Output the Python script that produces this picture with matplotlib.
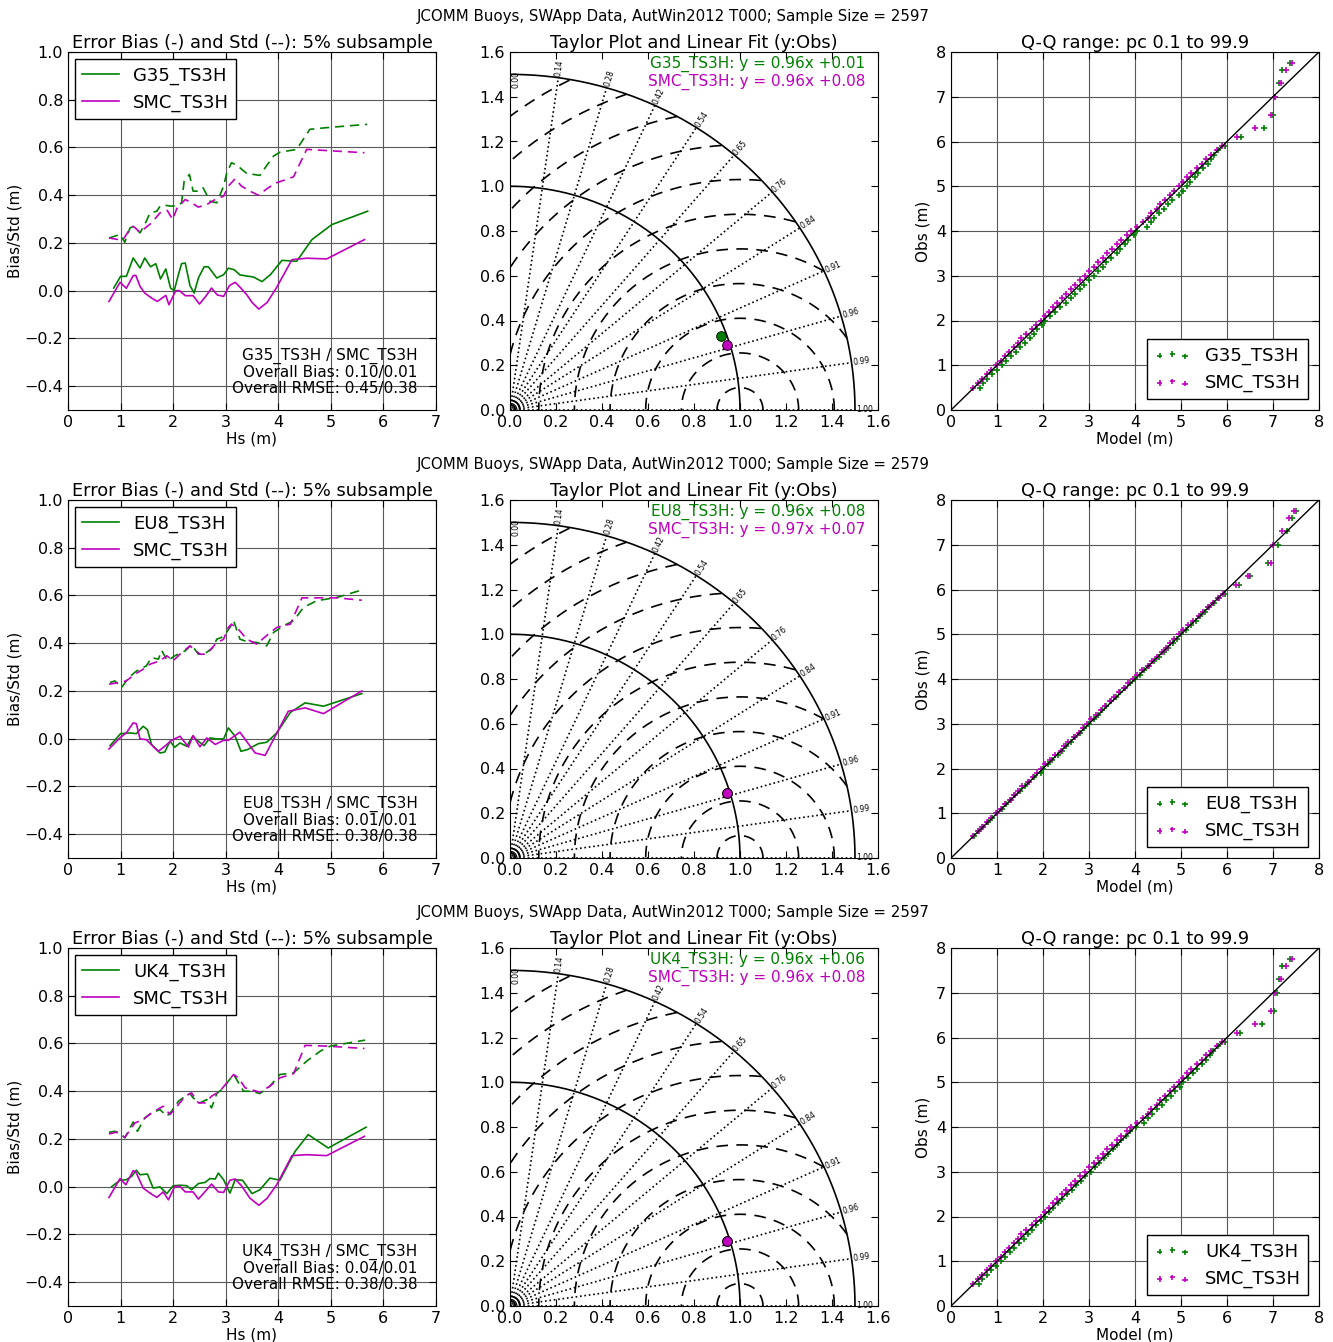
import numpy as np
import matplotlib
matplotlib.use('Agg')
import matplotlib.pyplot as plt

""" Bias/Std, Taylor and Q-Q panels for three model pairs """

plt.rcParams['font.family'] = ['DejaVu Sans']
plt.rcParams['xtick.direction'] = 'in'
plt.rcParams['ytick.direction'] = 'in'
plt.rcParams['xtick.top'] = True
plt.rcParams['ytick.right'] = True
plt.rcParams['xtick.labelsize'] = 11.5
plt.rcParams['ytick.labelsize'] = 11.5
plt.rcParams['xtick.major.size'] = 5
plt.rcParams['ytick.major.size'] = 5

# ---- row headers / model names
models = ['G35_TS3H', 'EU8_TS3H', 'UK4_TS3H']
ref_model = 'SMC_TS3H'
sample_sizes = [2597, 2579, 2597]
overall_bias = [('0.10', '0.01'), ('0.01', '0.01'), ('0.04', '0.01')]
overall_rmse = [('0.45', '0.38'), ('0.38', '0.38'), ('0.38', '0.38')]
fit_model = [('0.96', '+0.01'), ('0.96', '+0.08'), ('0.96', '+0.06')]
fit_smc = [('0.96', '+0.08'), ('0.97', '+0.07'), ('0.96', '+0.08')]

# ---- bias (solid) and std (dashed) vs Hs
g35_bias_x = [0.87, 1.0, 1.11, 1.24, 1.37, 1.46, 1.57, 1.67, 1.76, 1.86, 1.95, 2.02, 2.1, 2.16, 2.23, 2.32, 2.4, 2.48, 2.59, 2.67, 2.83, 2.96, 3.05, 3.16, 3.27, 3.53, 3.69, 3.85, 4.07, 4.35, 4.64, 5.02, 5.7]
g35_bias_y = [0.011, 0.06, 0.06, 0.137, 0.095, 0.137, 0.1, 0.113, 0.049, 0.091, 0.011, 0.0, 0.067, 0.113, 0.116, 0.021, -0.01, 0.053, 0.1, 0.1, 0.053, 0.067, 0.094, 0.088, 0.066, 0.057, 0.038, 0.067, 0.127, 0.123, 0.214, 0.277, 0.333]
smc1_bias_x = [0.78, 0.99, 1.11, 1.24, 1.29, 1.37, 1.46, 1.59, 1.7, 1.86, 1.92, 2.05, 2.12, 2.23, 2.38, 2.5, 2.62, 2.73, 2.84, 2.96, 3.07, 3.18, 3.27, 3.4, 3.5, 3.63, 3.79, 3.97, 4.26, 4.54, 4.92, 5.64]
smc1_bias_y = [-0.045, 0.035, 0.01, 0.063, 0.064, 0.018, -0.01, -0.031, -0.045, -0.02, -0.059, 0.0, 0.0, -0.021, -0.021, -0.056, -0.024, 0.011, -0.018, -0.024, 0.021, 0.035, 0.015, -0.017, -0.049, -0.077, -0.049, 0.014, 0.13, 0.136, 0.133, 0.214]
g35_std_x = [0.78, 0.99, 1.08, 1.18, 1.25, 1.37, 1.49, 1.56, 1.69, 1.75, 1.84, 1.97, 2.1, 2.16, 2.21, 2.31, 2.38, 2.48, 2.57, 2.7, 2.83, 2.96, 3.02, 3.11, 3.18, 3.27, 3.4, 3.53, 3.65, 3.75, 3.91, 4.03, 4.35, 4.6, 4.92, 5.69]
g35_std_y = [0.221, 0.235, 0.203, 0.263, 0.27, 0.242, 0.291, 0.326, 0.333, 0.354, 0.358, 0.354, 0.357, 0.368, 0.459, 0.487, 0.417, 0.417, 0.431, 0.375, 0.368, 0.438, 0.494, 0.536, 0.529, 0.515, 0.491, 0.487, 0.483, 0.515, 0.564, 0.58, 0.592, 0.676, 0.683, 0.697]
smc1_std_x = [0.78, 0.96, 1.05, 1.15, 1.24, 1.37, 1.59, 1.75, 1.89, 1.99, 2.07, 2.23, 2.35, 2.48, 2.64, 2.8, 2.96, 3.05, 3.18, 3.3, 3.46, 3.62, 3.81, 3.97, 4.29, 4.54, 4.92, 5.64]
smc1_std_y = [0.221, 0.214, 0.214, 0.249, 0.27, 0.245, 0.284, 0.326, 0.336, 0.298, 0.344, 0.382, 0.368, 0.35, 0.361, 0.382, 0.396, 0.438, 0.469, 0.438, 0.417, 0.4, 0.431, 0.452, 0.477, 0.592, 0.587, 0.578]

eu8_bias_x = [0.8, 1.0, 1.18, 1.3, 1.43, 1.51, 1.59, 1.75, 1.84, 1.94, 2.03, 2.13, 2.26, 2.37, 2.48, 2.59, 2.7, 2.83, 2.96, 3.05, 3.18, 3.29, 3.41, 3.62, 3.78, 3.97, 4.23, 4.51, 4.86, 5.59]
eu8_bias_y = [-0.029, 0.021, 0.024, 0.021, 0.052, 0.038, -0.025, -0.06, -0.056, -0.011, -0.036, -0.018, -0.032, 0.01, -0.011, -0.029, 0.003, -0.001, -0.001, 0.045, 0.01, -0.053, -0.046, -0.021, -0.015, 0.024, 0.11, 0.15, 0.136, 0.189]
smc2_bias_x = [0.78, 1.0, 1.11, 1.24, 1.3, 1.37, 1.49, 1.65, 1.72, 1.84, 1.97, 2.13, 2.29, 2.38, 2.51, 2.64, 2.8, 2.96, 3.05, 3.27, 3.56, 3.75, 3.94, 4.19, 4.51, 4.86, 5.59]
smc2_bias_y = [-0.043, 0.006, 0.024, 0.066, 0.063, -0.001, -0.004, -0.039, -0.053, -0.032, -0.007, 0.01, -0.035, 0.013, -0.034, 0.003, -0.024, -0.007, -0.007, 0.027, -0.06, -0.07, 0.01, 0.115, 0.129, 0.105, 0.2]
eu8_std_x = [0.8, 0.89, 1.02, 1.15, 1.3, 1.49, 1.59, 1.72, 1.78, 1.89, 2.03, 2.23, 2.35, 2.48, 2.61, 2.76, 2.83, 2.92, 2.99, 3.08, 3.15, 3.27, 3.4, 3.59, 3.78, 3.91, 4.1, 4.29, 4.48, 4.73, 5.12, 5.59]
eu8_std_y = [0.235, 0.242, 0.214, 0.255, 0.283, 0.305, 0.34, 0.333, 0.37, 0.326, 0.347, 0.368, 0.393, 0.354, 0.357, 0.382, 0.417, 0.424, 0.438, 0.466, 0.494, 0.417, 0.407, 0.403, 0.389, 0.445, 0.473, 0.494, 0.55, 0.578, 0.592, 0.623]
smc2_std_x = [0.78, 0.96, 1.11, 1.27, 1.43, 1.56, 1.75, 1.88, 2.0, 2.13, 2.32, 2.51, 2.64, 2.8, 2.96, 3.05, 3.11, 3.24, 3.4, 3.59, 3.81, 3.97, 4.23, 4.45, 4.86, 5.12, 5.59]
smc2_std_y = [0.228, 0.235, 0.242, 0.27, 0.291, 0.312, 0.326, 0.347, 0.326, 0.354, 0.389, 0.354, 0.354, 0.396, 0.417, 0.466, 0.48, 0.459, 0.417, 0.396, 0.438, 0.466, 0.48, 0.59, 0.59, 0.59, 0.58]

uk4_bias_x = [0.83, 0.99, 1.11, 1.21, 1.3, 1.37, 1.51, 1.62, 1.75, 1.88, 2.0, 2.14, 2.26, 2.35, 2.48, 2.61, 2.7, 2.8, 2.86, 2.96, 3.08, 3.18, 3.32, 3.5, 3.65, 3.84, 4.03, 4.32, 4.57, 4.95, 5.67]
uk4_bias_y = [0.0, 0.027, 0.029, 0.043, 0.069, 0.05, 0.053, -0.006, -0.001, -0.029, 0.004, 0.006, 0.004, -0.013, 0.013, 0.018, 0.034, 0.032, 0.057, 0.029, -0.027, 0.029, 0.027, -0.029, -0.013, 0.036, 0.027, 0.148, 0.218, 0.162, 0.249]
smc3_bias_x = [0.78, 0.99, 1.1, 1.24, 1.29, 1.43, 1.56, 1.69, 1.81, 1.91, 2.03, 2.13, 2.23, 2.38, 2.48, 2.61, 2.73, 2.86, 2.96, 3.08, 3.18, 3.3, 3.46, 3.63, 3.79, 3.97, 4.26, 4.54, 4.92, 5.64]
smc3_bias_y = [-0.045, 0.034, 0.008, 0.067, 0.062, -0.006, -0.027, -0.045, -0.022, -0.055, 0.001, 0.001, -0.022, -0.022, -0.052, -0.02, 0.011, -0.022, -0.024, 0.027, 0.032, 0.004, -0.048, -0.078, -0.048, 0.008, 0.13, 0.134, 0.13, 0.211]
uk4_std_x = [0.78, 0.89, 0.99, 1.08, 1.24, 1.32, 1.46, 1.59, 1.75, 1.88, 1.97, 2.1, 2.23, 2.32, 2.38, 2.51, 2.64, 2.73, 2.83, 2.96, 3.05, 3.15, 3.34, 3.5, 3.65, 3.84, 4.03, 4.29, 4.54, 4.8, 4.99, 5.65]
uk4_std_y = [0.228, 0.232, 0.225, 0.204, 0.271, 0.232, 0.288, 0.309, 0.323, 0.295, 0.316, 0.358, 0.379, 0.39, 0.372, 0.351, 0.365, 0.33, 0.39, 0.414, 0.442, 0.47, 0.4, 0.4, 0.39, 0.421, 0.47, 0.477, 0.526, 0.568, 0.589, 0.614]
smc3_std_x = [0.78, 0.92, 1.08, 1.21, 1.27, 1.43, 1.59, 1.81, 1.94, 2.1, 2.23, 2.35, 2.48, 2.61, 2.73, 2.89, 3.02, 3.15, 3.24, 3.37, 3.65, 3.84, 4.03, 4.29, 4.51, 4.92, 5.64]
smc3_std_y = [0.221, 0.228, 0.207, 0.246, 0.267, 0.281, 0.309, 0.337, 0.302, 0.344, 0.379, 0.393, 0.351, 0.351, 0.379, 0.4, 0.435, 0.47, 0.456, 0.414, 0.396, 0.421, 0.456, 0.473, 0.592, 0.589, 0.579]

# ---- Taylor points: normalised std and correlation
taylor_std_model = [0.977, 0.985, 0.985]
taylor_corr_model = [0.941, 0.956, 0.956]
taylor_std_smc = [0.988, 0.988, 0.988]
taylor_corr_smc = [0.956, 0.956, 0.956]
corr_labels = ['1.00', '0.99', '0.96', '0.91', '0.84', '0.76', '0.65', '0.54', '0.42', '0.28', '0.14', '0.00']
rms_radii = [0.1, 0.255, 0.41, 0.565, 0.72, 0.875, 1.03, 1.185, 1.34, 1.495, 1.65]
std_arcs = [1.0, 1.5]
origin_arcs = [0.015, 0.03, 0.045]

# ---- Q-Q quantiles (obs shared, model per series)
obs_q = [0.5, 0.6, 0.7, 0.8, 0.9, 1.0, 1.1, 1.2, 1.3, 1.4, 1.5, 1.6, 1.7, 1.8, 1.9, 2.0, 2.1, 2.2, 2.3, 2.4, 2.5, 2.6, 2.7, 2.8, 2.9, 3.0, 3.1, 3.2, 3.3, 3.4, 3.5, 3.6, 3.7, 3.8, 3.9, 4.0, 4.1, 4.2, 4.3, 4.4, 4.5, 4.6, 4.7, 4.8, 4.9, 5.0, 5.1, 5.2, 5.3, 5.4, 5.5, 5.6, 5.7, 5.8, 5.9, 6.1, 6.3, 6.6, 7.0, 7.3, 7.6, 7.75]
g35_q = [0.62, 0.7, 0.78, 0.9, 1.0, 1.1, 1.2, 1.3, 1.42, 1.5, 1.6, 1.72, 1.8, 1.88, 1.97, 2.05, 2.15, 2.25, 2.38, 2.5, 2.6, 2.7, 2.8, 2.9, 3.0, 3.1, 3.2, 3.3, 3.38, 3.48, 3.6, 3.68, 3.78, 3.85, 3.98, 4.05, 4.25, 4.35, 4.42, 4.52, 4.62, 4.72, 4.8, 4.95, 5.05, 5.12, 5.2, 5.3, 5.38, 5.48, 5.58, 5.65, 5.72, 5.8, 5.95, 6.3, 6.8, 7.0, 7.05, 7.12, 7.2, 7.38]
smc1_q = [0.48, 0.58, 0.68, 0.78, 0.88, 0.98, 1.08, 1.18, 1.27, 1.36, 1.45, 1.52, 1.62, 1.75, 1.85, 1.95, 2.05, 2.12, 2.22, 2.3, 2.42, 2.5, 2.6, 2.7, 2.8, 2.92, 3.0, 3.1, 3.2, 3.3, 3.4, 3.5, 3.6, 3.7, 3.82, 3.92, 4.05, 4.18, 4.28, 4.35, 4.48, 4.55, 4.65, 4.75, 4.85, 4.95, 5.05, 5.12, 5.22, 5.35, 5.45, 5.55, 5.65, 5.78, 5.9, 6.22, 6.6, 6.95, 7.05, 7.18, 7.28, 7.42]
eu8_q = [0.5, 0.6, 0.7, 0.8, 0.9, 1.0, 1.1, 1.2, 1.3, 1.4, 1.5, 1.6, 1.7, 1.8, 1.95, 2.0, 2.1, 2.2, 2.32, 2.42, 2.5, 2.6, 2.7, 2.8, 2.9, 3.0, 3.1, 3.2, 3.28, 3.38, 3.48, 3.58, 3.68, 3.78, 3.9, 4.0, 4.1, 4.2, 4.3, 4.42, 4.52, 4.62, 4.72, 4.82, 4.92, 5.0, 5.1, 5.22, 5.32, 5.42, 5.52, 5.6, 5.72, 5.82, 5.95, 6.25, 6.5, 6.9, 7.1, 7.3, 7.42, 7.5]
smc2_q = [0.48, 0.58, 0.68, 0.78, 0.88, 0.98, 1.08, 1.18, 1.28, 1.38, 1.45, 1.55, 1.68, 1.78, 1.88, 1.95, 2.05, 2.15, 2.25, 2.4, 2.45, 2.55, 2.68, 2.78, 2.88, 2.95, 3.05, 3.15, 3.25, 3.35, 3.45, 3.55, 3.65, 3.75, 3.85, 3.95, 4.05, 4.15, 4.28, 4.38, 4.48, 4.58, 4.68, 4.75, 4.85, 4.95, 5.05, 5.15, 5.25, 5.4, 5.48, 5.58, 5.7, 5.8, 5.92, 6.2, 6.45, 6.95, 7.0, 7.2, 7.35, 7.45]
uk4_q = [0.6, 0.68, 0.78, 0.88, 0.98, 1.08, 1.18, 1.28, 1.38, 1.48, 1.58, 1.68, 1.75, 1.85, 1.95, 2.05, 2.12, 2.22, 2.32, 2.42, 2.52, 2.62, 2.72, 2.82, 2.92, 3.05, 3.12, 3.22, 3.32, 3.42, 3.52, 3.6, 3.7, 3.8, 3.9, 4.02, 4.2, 4.28, 4.38, 4.48, 4.58, 4.68, 4.78, 4.88, 4.98, 5.05, 5.15, 5.25, 5.35, 5.45, 5.55, 5.62, 5.7, 5.8, 5.95, 6.28, 6.75, 7.02, 7.08, 7.12, 7.2, 7.38]
smc3_q = [0.48, 0.58, 0.68, 0.78, 0.88, 0.98, 1.08, 1.18, 1.27, 1.36, 1.45, 1.52, 1.62, 1.75, 1.85, 1.95, 2.05, 2.12, 2.22, 2.3, 2.42, 2.5, 2.6, 2.7, 2.8, 2.92, 3.0, 3.1, 3.2, 3.3, 3.4, 3.5, 3.6, 3.7, 3.82, 3.92, 4.05, 4.18, 4.28, 4.35, 4.48, 4.55, 4.65, 4.75, 4.85, 4.95, 5.05, 5.12, 5.22, 5.35, 5.45, 5.55, 5.65, 5.78, 5.9, 6.22, 6.6, 6.95, 7.05, 7.18, 7.28, 7.42]

rows = [
    dict(bias=[(g35_bias_x, g35_bias_y), (smc1_bias_x, smc1_bias_y)],
         std=[(g35_std_x, g35_std_y), (smc1_std_x, smc1_std_y)],
         qq=[g35_q, smc1_q]),
    dict(bias=[(eu8_bias_x, eu8_bias_y), (smc2_bias_x, smc2_bias_y)],
         std=[(eu8_std_x, eu8_std_y), (smc2_std_x, smc2_std_y)],
         qq=[eu8_q, smc2_q]),
    dict(bias=[(uk4_bias_x, uk4_bias_y), (smc3_bias_x, smc3_bias_y)],
         std=[(uk4_std_x, uk4_std_y), (smc3_std_x, smc3_std_y)],
         qq=[uk4_q, smc3_q]),
]

colors = ['green', 'm']
W, H = 1333, 1342
fig = plt.figure(figsize=(W / 100, H / 100), dpi=100)

col_left = [68, 510, 951]
row_top = [52, 500, 948]
ax_w, ax_h = 368, 358


def add_ax(px, py):
    return fig.add_axes([px / W, 1 - (py + ax_h) / H, ax_w / W, ax_h / H])


def draw_grid(ax):
    ax.grid(True, color='0.35', lw=0.8, ls='-')
    ax.set_axisbelow(True)


for i, row in enumerate(rows):
    names = [models[i], ref_model]
    fig.text(0.505, 1 - (row_top[i] - 35) / H,
             'JCOMM Buoys, SWApp Data, AutWin2012 T000; Sample Size = %d' % sample_sizes[i],
             ha='center', va='center', fontsize=10.8)

    # --- Error bias and std
    ax = add_ax(col_left[0], row_top[i])
    lines = []
    for (bx, by), c, n in zip(row['bias'], colors, names):
        l, = ax.plot(bx, by, color=c, lw=1.2, label=n)
        lines.append(l)
    for (sx, sy), c in zip(row['std'], colors):
        ax.plot(sx, sy, color=c, lw=1.2, ls=(0, (5.5, 3.5)))
    ax.set_xlim(0, 7)
    ax.set_ylim(-0.5, 1.0)
    ax.set_yticks(np.arange(-0.4, 1.01, 0.2))
    ax.set_yticklabels(['\u22120.4', '\u22120.2', '0.0', '0.2', '0.4', '0.6', '0.8', '1.0'])
    draw_grid(ax)
    ax.set_title('Error Bias (-) and Std (--): 5% subsample', fontsize=12.8, pad=3)
    ax.set_xlabel('Hs (m)', fontsize=11, labelpad=1)
    ax.set_ylabel('Bias/Std (m)', fontsize=11, labelpad=1)
    leg = ax.legend(handles=lines, loc='upper left', fontsize=13, fancybox=False,
                    handlelength=2.0, borderaxespad=0.4, framealpha=1)
    leg.get_frame().set_edgecolor('black')
    ax.text(0.95, 0.04,
            '%s / %s\nOverall Bias: %s/%s\nOverall RMSE: %s/%s'
            % (models[i], ref_model, overall_bias[i][0], overall_bias[i][1],
               overall_rmse[i][0], overall_rmse[i][1]),
            transform=ax.transAxes, ha='right', va='bottom', multialignment='right',
            fontsize=11, linespacing=1.05)

    # --- Taylor plot
    ax = add_ax(col_left[1], row_top[i])
    ax.set_xlim(0, 1.6)
    ax.set_ylim(0, 1.6)
    ax.set_xticks(np.arange(0, 1.61, 0.2))
    ax.set_yticks(np.arange(0, 1.61, 0.2))
    t = np.linspace(0, np.pi, 800)
    for r in rms_radii:
        xs = 1 + r * np.cos(t)
        ys = r * np.sin(t)
        keep = (xs >= 0) & (np.hypot(xs, ys) <= 1.5)
        xs = np.where(keep, xs, np.nan)
        ax.plot(xs, ys, color='k', lw=1.2, ls=(0, (7, 5)))
    q = np.linspace(0, np.pi / 2, 300)
    for r in std_arcs:
        ax.plot(r * np.cos(q), r * np.sin(q), color='k', lw=1.2)
    for r in origin_arcs:
        ax.plot(r * np.cos(q), r * np.sin(q), color='k', lw=0.8)
    for lab in corr_labels:
        ang = np.arccos(float(lab))
        ax.plot([0, 1.5 * np.cos(ang)], [0, 1.5 * np.sin(ang)], color='k', lw=1.2, ls=':')
        if lab == '0.00':
            # vertical label sits just inside the y axis
            ax.text(0.005, 1.44, lab, fontsize=5.5, rotation=90, ha='left', va='bottom')
        else:
            ax.text(1.505 * np.cos(ang), 1.505 * np.sin(ang), lab, fontsize=5.5,
                    rotation=np.degrees(ang), rotation_mode='anchor', ha='left', va='center')
    for s, c, col in [(taylor_std_model[i], taylor_corr_model[i], colors[0]),
                      (taylor_std_smc[i], taylor_corr_smc[i], colors[1])]:
        ax.plot(s * c, s * np.sin(np.arccos(c)), 'o', color=col, ms=7, mec='k', mew=0.6)
    ax.text(0.965, 0.988, '%s: y = %sx %s' % (models[i], fit_model[i][0], fit_model[i][1]),
            transform=ax.transAxes, ha='right', va='top', color='green', fontsize=11)
    ax.text(0.965, 0.938, '%s: y = %sx %s' % (ref_model, fit_smc[i][0], fit_smc[i][1]),
            transform=ax.transAxes, ha='right', va='top', color='m', fontsize=11)
    ax.set_title('Taylor Plot and Linear Fit (y:Obs)', fontsize=12.8, pad=3)

    # --- Q-Q plot
    ax = add_ax(col_left[2], row_top[i])
    ax.plot([0, 8], [0, 8], color='k', lw=1)
    for qv, c, n in zip(row['qq'], colors, names):
        ax.scatter(qv, obs_q, marker='+', s=22, color=c, lw=1.2, label=n)
    ax.set_xlim(0, 8)
    ax.set_ylim(0, 8)
    ax.set_xticks(range(0, 9))
    ax.set_yticks(range(0, 9))
    draw_grid(ax)
    ax.set_title('Q-Q range: pc 0.1 to 99.9', fontsize=12.8, pad=3)
    ax.set_xlabel('Model (m)', fontsize=11, labelpad=1)
    ax.set_ylabel('Obs (m)', fontsize=11, labelpad=4)
    leg = ax.legend(loc='lower right', fontsize=13, scatterpoints=3, fancybox=False,
                    borderaxespad=0.6, framealpha=1, markerscale=0.8)
    leg.get_frame().set_edgecolor('black')

fig.savefig('out.png', dpi=100, facecolor='white')
